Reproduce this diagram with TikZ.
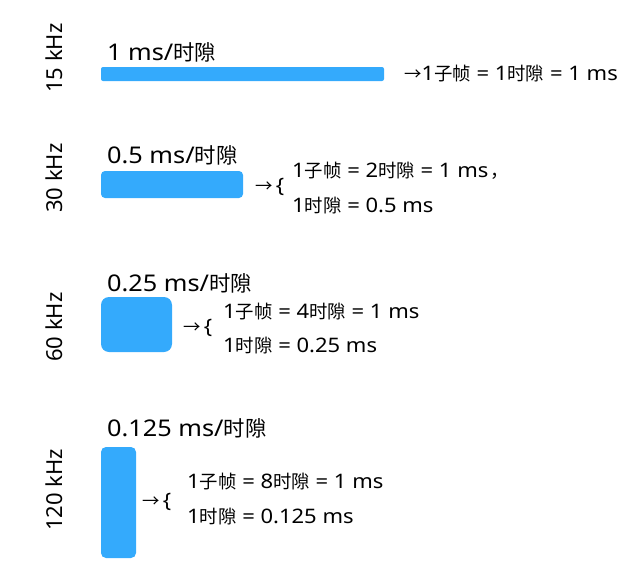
\documentclass[tikz,border=0pt]{standalone}
\usepackage{fontspec}
\setmainfont[FakeStretch=1.1]{Noto Sans}
\newfontfamily\cjk[Scale=0.92]{Noto Sans CJK SC}
\newfontfamily\cjkbig[Scale=0.93]{Noto Sans CJK SC}
\newfontfamily\cjkarrow{Noto Sans CJK SC}
\newfontfamily\freqfont{Noto Sans}
\newcommand{\zh}[1]{{\cjk #1}}
\newcommand{\zhb}[1]{{\cjkbig #1}}
\definecolor{barblue}{RGB}{52,170,252}
\begin{document}
\begin{tikzpicture}[x=1pt,y=-1pt,
  bar/.style={fill=barblue,draw=none},
  freq/.style={rotate=90,inner sep=0,font=\freqfont\fontsize{22}{24}\selectfont},
  slot/.style={anchor=base west,inner sep=0,font=\fontsize{23}{26}\selectfont},
  rel/.style={anchor=base west,inner sep=0,font=\fontsize{20}{22}\selectfont},
  arr/.style={anchor=west,inner sep=0,font=\fontsize{20}{22}\selectfont}]
\useasboundingbox (0,0) rectangle (633,573);
% row 1
\node[freq] (f1) at (54,58) {15 kHz};
\node[slot] (s1) at (107,60) {1 ms/\zhb{时隙}};
\fill[bar,rounded corners=2] (101,67) rectangle (384,81);
\node[rel] (r1) at (404,80) {{\cjkarrow\fontsize{17.4}{20}\selectfont →}1\zh{子帧} = 1\zh{时隙} = 1 ms};
% row 2
\node[freq] (f2) at (54,178) {30 kHz};
\node[slot] (s2) at (107,163) {0.5 ms/\zhb{时隙}};
\fill[bar,rounded corners=4] (101,171) rectangle (243,198);
\node[arr] (a2) at (255,187) {{\cjkarrow\fontsize{17.4}{20}\selectfont →}\,\{};
\node[rel] (r2a) at (292,177) {1\zh{子帧} = 2\zh{时隙} = 1 ms\kern2pt\zh{，}};
\node[rel] (r2b) at (292,212) {1\zh{时隙} = 0.5 ms};
% row 3
\node[freq] (f3) at (54,327) {60 kHz};
\node[slot] (s3) at (107,291) {0.25 ms/\zhb{时隙}};
\fill[bar,rounded corners=8] (101,297) rectangle (172,352);
\node[arr] (a3) at (183,328) {{\cjkarrow\fontsize{17.4}{20}\selectfont →}\,\{};
\node[rel] (r3a) at (223,318) {1\zh{子帧} = 4\zh{时隙} = 1 ms};
\node[rel] (r3b) at (223,352) {1\zh{时隙} = 0.25 ms};
% row 4
\node[freq] (f4) at (54,490) {120 kHz};
\node[slot] (s4) at (107,436) {0.125 ms/\zhb{时隙}};
\fill[bar,rounded corners=5] (101,447) rectangle (136,558);
\node[arr] (a4) at (142,502) {{\cjkarrow\fontsize{17.4}{20}\selectfont →}\,\{};
\node[rel] (r4a) at (187,488) {1\zh{子帧} = 8\zh{时隙} = 1 ms};
\node[rel] (r4b) at (187,523) {1\zh{时隙} = 0.125 ms};
\end{tikzpicture}
\end{document}
